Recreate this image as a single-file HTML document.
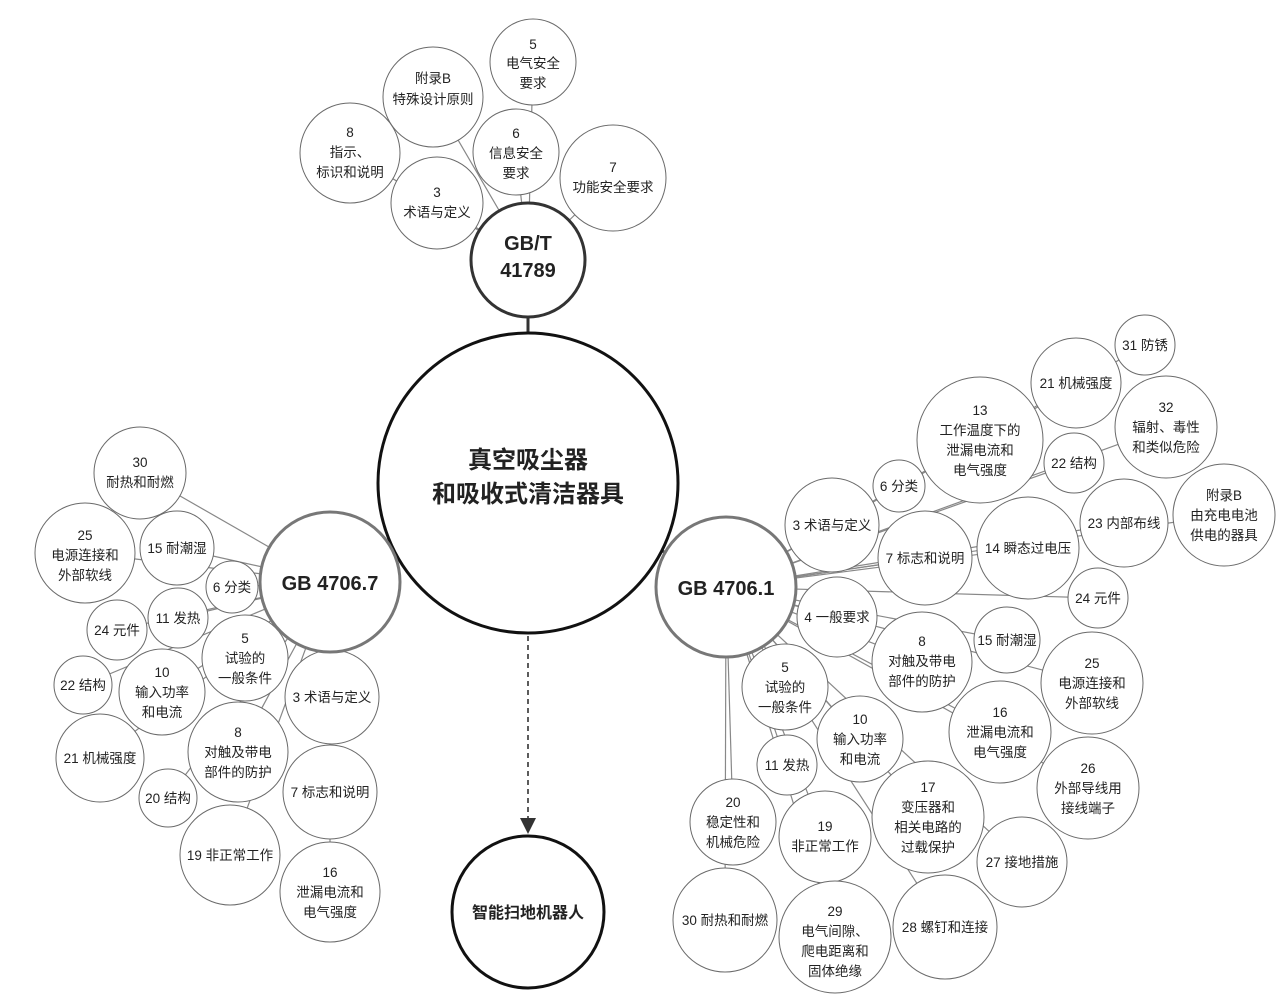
<!DOCTYPE html>
<html><head><meta charset="utf-8"><style>
html,body{margin:0;padding:0;background:#fff;}
svg{display:block;}
text{font-family:"Liberation Sans","Noto Sans CJK SC",sans-serif;fill:#222;text-anchor:middle;}
.s{font-size:13.5px;}
.c{fill:#fff;stroke:#6a6a6a;stroke-width:1;}
.l{stroke:#888;stroke-width:1.2;}
</style></head><body>
<svg width="1277" height="1004" viewBox="0 0 1277 1004" xmlns="http://www.w3.org/2000/svg">
<defs><marker id="ah" markerWidth="10" markerHeight="10" refX="5" refY="5" orient="auto"><path d="M0,0 L10,5 L0,10 z" fill="#333"/></marker></defs>
<!-- connector lines -->
<g class="l">
<line x1="528" y1="260" x2="433" y2="97"/><line x1="528" y1="260" x2="533" y2="62"/>
<line x1="528" y1="260" x2="350" y2="153"/><line x1="528" y1="260" x2="516" y2="152"/>
<line x1="528" y1="260" x2="437" y2="203"/><line x1="528" y1="260" x2="613" y2="178"/>
<line x1="330" y1="582" x2="140" y2="473"/><line x1="330" y1="582" x2="85" y2="553"/>
<line x1="330" y1="582" x2="177" y2="548"/><line x1="330" y1="582" x2="232" y2="587"/>
<line x1="330" y1="582" x2="117" y2="630"/><line x1="330" y1="582" x2="178" y2="618"/>
<line x1="330" y1="582" x2="245" y2="658"/><line x1="330" y1="582" x2="83" y2="685"/>
<line x1="330" y1="582" x2="162" y2="692"/><line x1="330" y1="582" x2="332" y2="697"/>
<line x1="330" y1="582" x2="238" y2="752"/><line x1="330" y1="582" x2="100" y2="758"/>
<line x1="330" y1="582" x2="168" y2="798"/><line x1="330" y1="582" x2="330" y2="792"/>
<line x1="330" y1="582" x2="230" y2="855"/><line x1="330" y1="582" x2="330" y2="892"/>
<line x1="726" y1="587" x2="1145" y2="345"/><line x1="726" y1="587" x2="1076" y2="383"/>
<line x1="726" y1="587" x2="980" y2="440"/><line x1="726" y1="587" x2="1166" y2="427"/>
<line x1="726" y1="587" x2="1074" y2="463"/><line x1="726" y1="587" x2="899" y2="486"/>
<line x1="726" y1="587" x2="832" y2="525"/><line x1="726" y1="587" x2="1224" y2="515"/>
<line x1="726" y1="587" x2="1124" y2="523"/><line x1="726" y1="587" x2="925" y2="558"/>
<line x1="726" y1="587" x2="1028" y2="548"/><line x1="726" y1="587" x2="1098" y2="598"/>
<line x1="726" y1="587" x2="837" y2="617"/><line x1="726" y1="587" x2="1007" y2="640"/>
<line x1="726" y1="587" x2="922" y2="662"/><line x1="726" y1="587" x2="1092" y2="683"/>
<line x1="726" y1="587" x2="785" y2="687"/><line x1="726" y1="587" x2="860" y2="739"/>
<line x1="726" y1="587" x2="1000" y2="732"/><line x1="726" y1="587" x2="1088" y2="788"/>
<line x1="726" y1="587" x2="787" y2="765"/><line x1="726" y1="587" x2="733" y2="822"/>
<line x1="726" y1="587" x2="825" y2="837"/><line x1="726" y1="587" x2="928" y2="817"/>
<line x1="726" y1="587" x2="1022" y2="862"/><line x1="726" y1="587" x2="725" y2="920"/>
<line x1="726" y1="587" x2="835" y2="937"/><line x1="726" y1="587" x2="945" y2="927"/>
</g>
<line x1="528" y1="318" x2="528" y2="333" stroke="#333" stroke-width="3"/>
<line x1="390" y1="553" x2="405" y2="545" stroke="#555" stroke-width="3"/>
<line x1="652" y1="545" x2="666" y2="553" stroke="#555" stroke-width="3"/>
<line x1="528" y1="636" x2="528" y2="826" stroke="#333" stroke-width="1.6" stroke-dasharray="5,4" marker-end="url(#ah)"/>

<!-- top cluster -->
<g class="c">
<circle cx="433" cy="97" r="50"/><circle cx="533" cy="62" r="43"/><circle cx="350" cy="153" r="50"/>
<circle cx="516" cy="152" r="43"/><circle cx="437" cy="203" r="46"/><circle cx="613" cy="178" r="53"/>
</g>
<g class="s">
<text x="433" y="83">附录B</text><text x="433" y="104">特殊设计原则</text>
<text x="533" y="49">5</text><text x="533" y="68">电气安全</text><text x="533" y="88">要求</text>
<text x="350" y="137">8</text><text x="350" y="157">指示、</text><text x="350" y="177">标识和说明</text>
<text x="516" y="138">6</text><text x="516" y="158">信息安全</text><text x="516" y="178">要求</text>
<text x="437" y="197">3</text><text x="437" y="217">术语与定义</text>
<text x="613" y="172">7</text><text x="613" y="192">功能安全要求</text>
</g>

<!-- left cluster -->
<g class="c">
<circle cx="140" cy="473" r="46"/><circle cx="85" cy="553" r="50"/><circle cx="177" cy="548" r="37"/>
<circle cx="232" cy="587" r="26"/><circle cx="117" cy="630" r="30"/><circle cx="178" cy="618" r="30"/>
<circle cx="245" cy="658" r="43"/><circle cx="83" cy="685" r="29"/><circle cx="162" cy="692" r="43"/>
<circle cx="332" cy="697" r="47"/><circle cx="238" cy="752" r="50"/><circle cx="100" cy="758" r="44"/>
<circle cx="168" cy="798" r="29"/><circle cx="330" cy="792" r="47"/><circle cx="230" cy="855" r="50"/>
<circle cx="330" cy="892" r="50"/>
</g>
<g class="s">
<text x="140" y="467">30</text><text x="140" y="487">耐热和耐燃</text>
<text x="85" y="540">25</text><text x="85" y="560">电源连接和</text><text x="85" y="580">外部软线</text>
<text x="177" y="553">15 耐潮湿</text><text x="232" y="592">6 分类</text>
<text x="117" y="635">24 元件</text><text x="178" y="623">11 发热</text>
<text x="245" y="643">5</text><text x="245" y="663">试验的</text><text x="245" y="683">一般条件</text>
<text x="83" y="690">22 结构</text>
<text x="162" y="677">10</text><text x="162" y="697">输入功率</text><text x="162" y="717">和电流</text>
<text x="332" y="702">3 术语与定义</text>
<text x="238" y="737">8</text><text x="238" y="757">对触及带电</text><text x="238" y="777">部件的防护</text>
<text x="100" y="763">21 机械强度</text><text x="168" y="803">20 结构</text>
<text x="330" y="797">7 标志和说明</text><text x="230" y="860">19 非正常工作</text>
<text x="330" y="877">16</text><text x="330" y="897">泄漏电流和</text><text x="330" y="917">电气强度</text>
</g>

<!-- right cluster -->
<g class="c">
<circle cx="1145" cy="345" r="30"/><circle cx="1076" cy="383" r="45"/><circle cx="980" cy="440" r="63"/>
<circle cx="1166" cy="427" r="51"/><circle cx="1074" cy="463" r="30"/><circle cx="899" cy="486" r="26"/>
<circle cx="832" cy="525" r="47"/><circle cx="1224" cy="515" r="51"/><circle cx="1124" cy="523" r="44"/>
<circle cx="925" cy="558" r="47"/><circle cx="1028" cy="548" r="51"/><circle cx="1098" cy="598" r="30"/>
<circle cx="837" cy="617" r="40"/><circle cx="1007" cy="640" r="33"/><circle cx="922" cy="662" r="50"/>
<circle cx="1092" cy="683" r="51"/><circle cx="785" cy="687" r="43"/><circle cx="860" cy="739" r="43"/>
<circle cx="1000" cy="732" r="51"/><circle cx="1088" cy="788" r="51"/><circle cx="787" cy="765" r="30"/>
<circle cx="733" cy="822" r="43"/><circle cx="825" cy="837" r="46"/><circle cx="928" cy="817" r="56"/>
<circle cx="1022" cy="862" r="45"/><circle cx="725" cy="920" r="52"/><circle cx="835" cy="937" r="56"/>
<circle cx="945" cy="927" r="52"/>
</g>
<g class="s">
<text x="1145" y="350">31 防锈</text><text x="1076" y="388">21 机械强度</text>
<text x="980" y="415">13</text><text x="980" y="435">工作温度下的</text><text x="980" y="455">泄漏电流和</text><text x="980" y="475">电气强度</text>
<text x="1166" y="412">32</text><text x="1166" y="432">辐射、毒性</text><text x="1166" y="452">和类似危险</text>
<text x="1074" y="468">22 结构</text><text x="899" y="491">6 分类</text>
<text x="832" y="530">3 术语与定义</text>
<text x="1224" y="500">附录B</text><text x="1224" y="520">由充电电池</text><text x="1224" y="540">供电的器具</text>
<text x="1124" y="528">23 内部布线</text><text x="925" y="563">7 标志和说明</text>
<text x="1028" y="553">14 瞬态过电压</text><text x="1098" y="603">24 元件</text>
<text x="837" y="622">4 一般要求</text><text x="1007" y="645">15 耐潮湿</text>
<text x="922" y="646">8</text><text x="922" y="666">对触及带电</text><text x="922" y="686">部件的防护</text>
<text x="1092" y="668">25</text><text x="1092" y="688">电源连接和</text><text x="1092" y="708">外部软线</text>
<text x="785" y="672">5</text><text x="785" y="692">试验的</text><text x="785" y="712">一般条件</text>
<text x="860" y="724">10</text><text x="860" y="744">输入功率</text><text x="860" y="764">和电流</text>
<text x="1000" y="717">16</text><text x="1000" y="737">泄漏电流和</text><text x="1000" y="757">电气强度</text>
<text x="1088" y="773">26</text><text x="1088" y="793">外部导线用</text><text x="1088" y="813">接线端子</text>
<text x="787" y="770">11 发热</text>
<text x="733" y="807">20</text><text x="733" y="827">稳定性和</text><text x="733" y="847">机械危险</text>
<text x="825" y="831">19</text><text x="825" y="851">非正常工作</text>
<text x="928" y="792">17</text><text x="928" y="812">变压器和</text><text x="928" y="832">相关电路的</text><text x="928" y="852">过载保护</text>
<text x="1022" y="867">27 接地措施</text><text x="725" y="925">30 耐热和耐燃</text>
<text x="835" y="916">29</text><text x="835" y="936">电气间隙、</text><text x="835" y="956">爬电距离和</text><text x="835" y="976">固体绝缘</text>
<text x="945" y="932">28 螺钉和连接</text>
</g>

<!-- hubs -->
<circle cx="528" cy="260" r="57" fill="#fff" stroke="#333" stroke-width="3"/>
<text x="528" y="250" style="font-size:20px;font-weight:bold">GB/T</text>
<text x="528" y="277" style="font-size:20px;font-weight:bold">41789</text>
<circle cx="528" cy="483" r="150" fill="#fff" stroke="#111" stroke-width="3"/>
<text x="528" y="468" style="font-size:24px;font-weight:bold">真空吸尘器</text>
<text x="528" y="502" style="font-size:24px;font-weight:bold">和吸收式清洁器具</text>
<circle cx="330" cy="582" r="70" fill="#fff" stroke="#777" stroke-width="3"/>
<text x="330" y="590" style="font-size:20px;font-weight:bold">GB 4706.7</text>
<circle cx="726" cy="587" r="70" fill="#fff" stroke="#777" stroke-width="3"/>
<text x="726" y="595" style="font-size:20px;font-weight:bold">GB 4706.1</text>
<circle cx="528" cy="912" r="76" fill="#fff" stroke="#111" stroke-width="3"/>
<text x="528" y="918" style="font-size:16px;font-weight:bold">智能扫地机器人</text>
</svg>
</body></html>
